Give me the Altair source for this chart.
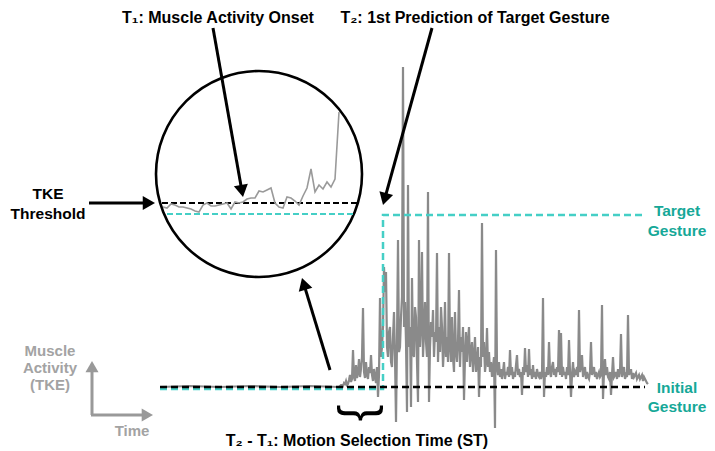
import math
import altair as alt
import pandas as pd

# ---------------- data ----------------
# pre-onset flat part of the TKE signal (time, amplitude above threshold)
pre_t = [160, 190, 220, 250, 280, 310, 339]
pre_amp = [0, 1, 0, 1, 0, 1, 0]

# burst part of the TKE signal, one sample per time unit from t=340
burst_start = 340
burst_step = 1
burst_amp = [
    1, 2, 2, 1, 4, 3, 6, 2, 3, 7,                 # 340
    12, 5, 8, 37, 10, 6, 22, 9, 14, 28,           # 350
    10, 18, 30, 79, 15, 9, 25, 12, 8, 20,         # 360
    14, 32, 12, 6, 18, 10, 4, 20, -10, 12,        # 370
    89, 30, 40, 60, 120, 95, 115, 40, 30, 55,     # 380
    60, 25, 20, 50, 75, 30, -35, 45, 147, 35,     # 390
    40, 70, 90, 320, 60, 85, 45, -25, 202, 40,    # 400
    60, -20, 109, 35, 30, 80, 70, 25, -15, 147,   # 410
    40, 60, 135, 30, 55, 85, 45, 30, 195, -15,    # 420
    40, 65, 50, 77, 30, 55, 45, 134, 25, 60,      # 430
    35, 80, 60, 20, 40, 85, 30, 50, 25, 134,      # 440
    40, 25, 70, 30, 15, 75, 35, 25, 45, 97,       # 450
    20, 50, 35, 60, -13, 30, 55, 25, 45, 60,      # 460
    20, 35, 45, 15, 30, 50, 15, 25, 40, -10,      # 470
    30, 20, 164, 30, 45, 15, 25, 59, 20, 35,      # 480
    15, 25, 10, 20, 30, -41, 137, 20, 12, 25,     # 490
    10, 18, 8, 15, 25, 8, 15, 12, 20, 10,         # 500
    37, 12, 20, 8, 15, 10, 22, 32, 12, 18,        # 510
    10, 15, -8, 20, 12, 39, 15, 22, 10, 38,       # 520
    12, 18, 8, 22, 10, 15, 8, 18, 12, 10,         # 530
    15, 8, 12, 89, -10, 15, 10, 20, 12, 45,       # 540
    15, 10, 20, 25, 12, 18, 10, 20, 15, 57,       # 550
    12, 54, 10, 20, 12, 15, 8, 20, 12, 47,        # 560
    15, -10, 12, 25, 10, 15, 12, 20, 10, 77,      # 570
    15, 20, 32, 10, 15, 20, 8, 15, 10, 8,         # 580
    15, 45, 12, 15, 20, 10, 15, 8, 12, 15,        # 590
    10, 12, 82, -12, 15, 28, 12, 20, 10, 8,       # 600
    15, -8, 12, 30, 10, 12, 15, 8, 18, 10,        # 610
    15, 53, 10, 15, 20, 8, 12, 10, 72, 12,        # 620
    15, 18, 8, 14, 10, 12, 14, 8, 10, 12,         # 630
    8, 10, 12, 6, 10, 8, 6, 4, 3,                 # 640
]

# zoomed inset of the onset region, sampled every 4 units from 163
inset_start = 163
inset_step = 4
inset_amp = [-4, -5, -1, -2, -4, -4, -5, -6, -8, -9, -2, 0, -3, -3, -2, -1, 0, -6, 1, 0,
             1, 4, 5, 5, 12, 11, 13, 15, 0, -4, -5, 6, 5, 2, -2, 7, 15, 34, 11, 18,
             14, 21, 16, 24, 91]

# gesture prediction: initial level, target level, switch time
gesture_t = [160, 383, 383, 645]
gesture_level = [-2, -2, 172, 172]

# ---------------- layout ----------------
BASE = 387          # screen y of the TKE threshold in the main plot
INSET_BASE = 203    # screen y of the threshold inside the zoom circle
W, H = 699, 443
xs = alt.Scale(domain=[8, 707], nice=False, zero=False)
ys = alt.Scale(domain=[8, 451], nice=False, zero=False, reverse=True)


def X(f="x"):
    return alt.X(f, type="quantitative", scale=xs, axis=None)


def Y(f="y"):
    return alt.Y(f, type="quantitative", scale=ys, axis=None)


layers = []

# main signal
sig_t = pre_t + [burst_start + burst_step * i for i in range(len(burst_amp))]
sig_a = pre_amp + burst_amp
sig = pd.DataFrame({"x": sig_t, "y": [BASE - a for a in sig_a]})
layers.append(alt.Chart(sig).mark_line(color="#8a8a8a", strokeWidth=2.2).encode(x=X(), y=Y()))

# gesture prediction (cyan dashed)
gest = pd.DataFrame({"x": gesture_t, "y": [BASE - g for g in gesture_level], "o": list(range(len(gesture_t)))})
layers.append(alt.Chart(gest).mark_line(color="#45cfc6", strokeWidth=2.5, strokeDash=[7, 4]).encode(
    x=X(), y=Y(), order="o:Q"))

# threshold (black dashed)
thr = pd.DataFrame({"x": [160], "x2": [645], "y": [BASE]})
layers.append(alt.Chart(thr).mark_rule(color="black", strokeWidth=2.5, strokeDash=[7, 4]).encode(
    x=X(), x2="x2", y=Y()))

# inset circle
circ = pd.DataFrame({"x": [259], "y": [174]})
layers.append(alt.Chart(circ).mark_point(shape="circle", size=206 * 206, filled=False, color="black",
                                         strokeWidth=2.6, opacity=1).encode(x=X(), y=Y()))
# inset threshold + gesture
ithr = pd.DataFrame({"x": [162], "x2": [358], "y": [INSET_BASE]})
layers.append(alt.Chart(ithr).mark_rule(color="black", strokeWidth=2, strokeDash=[6, 3]).encode(
    x=X(), x2="x2", y=Y()))
igest = pd.DataFrame({"x": [167], "x2": [353], "y": [INSET_BASE + 11]})
layers.append(alt.Chart(igest).mark_rule(color="#45cfc6", strokeWidth=2, strokeDash=[6, 3]).encode(
    x=X(), x2="x2", y=Y()))
# inset signal
isig = pd.DataFrame({"x": [inset_start + inset_step * i for i in range(len(inset_amp))],
                     "y": [INSET_BASE - a for a in inset_amp]})
layers.append(alt.Chart(isig).mark_line(color="#9a9a9a", strokeWidth=1.6).encode(x=X(), y=Y()))


def arrow(x0, y0, x1, y1, color, width, head):
    L = math.hypot(x1 - x0, y1 - y0)
    dx, dy = (x1 - x0) / L, (y1 - y0) / L
    h = math.sqrt(3) / 4 * math.sqrt(head)
    cx, cy = x1 - h * dx, y1 - h * dy
    ang = math.degrees(math.atan2(dx, -dy)) % 360
    line = alt.Chart(pd.DataFrame({"x": [x0], "y": [y0], "x2": [cx], "y2": [cy]})).mark_rule(
        color=color, strokeWidth=width).encode(x=X(), y=Y(), x2="x2", y2="y2")
    tri = alt.Chart(pd.DataFrame({"x": [cx], "y": [cy]})).mark_point(
        shape="triangle-up", filled=True, size=head, angle=ang, color=color, opacity=1).encode(x=X(), y=Y())
    return [line, tri]


layers += arrow(213, 28, 243, 197, "black", 3, 200)
layers += arrow(432, 28, 383, 205, "black", 3, 200)
layers += arrow(89, 203, 155, 203, "black", 3, 200)
layers += arrow(330, 370, 302, 278, "black", 3, 200)
layers += arrow(92, 415, 92, 361, "#999999", 3, 170)
layers += arrow(91, 415, 153, 415, "#999999", 3, 170)


def texts(rows, color, size=16, weight="bold", angle=0, font="Liberation Sans"):
    df = pd.DataFrame(rows, columns=["x", "y", "t"])
    kw = dict(font=font, fontSize=size, fontWeight=weight, color=color, align="center", baseline="middle")
    if angle:
        kw["angle"] = angle
    return alt.Chart(df).mark_text(**kw).encode(x=X(), y=Y(), text="t:N")


layers.append(texts([
    (218, 18, "T\u2081: Muscle Activity Onset"),
    (475, 18, "T\u2082: 1st Prediction of Target Gesture"),
    (357, 441, "T\u2082 - T\u2081: Motion Selection Time (ST)"),
], "black"))
layers.append(texts([
    (48, 194, "TKE"),
    (48, 214, "Threshold"),
], "black", size=15.5))
layers.append(texts([
    (677, 211, "Target"),
    (677, 231, "Gesture"),
    (677, 388, "Initial"),
    (677, 407, "Gesture"),
], "#16a898", size=15.5))
layers.append(texts([
    (50, 351, "Muscle"),
    (50, 368, "Activity"),
    (50, 385, "(TKE)"),
    (132, 431, "Time"),
], "#a3a3a3", size=15))
layers.append(texts([(362, 413, "}")], "black", size=50, weight="normal", angle=90))

chart = alt.layer(*layers).properties(width=W, height=H, padding=0, autosize="none").configure_view(
    strokeOpacity=0)

chart.save("out.html", embed_options={"renderer": "svg", "actions": False})
